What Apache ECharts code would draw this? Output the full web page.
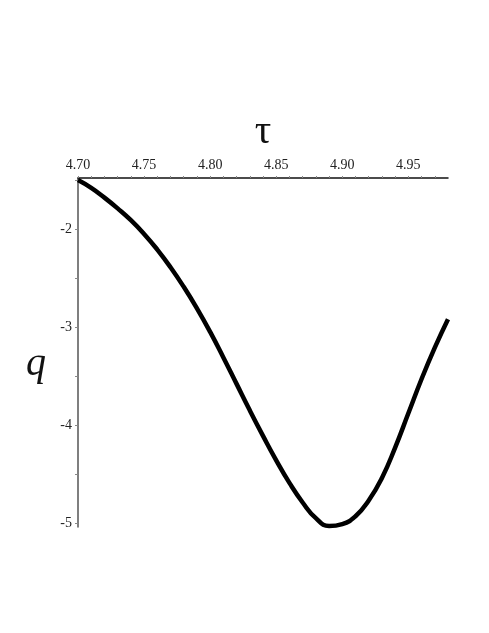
<!DOCTYPE html>
<html>
<head>
<meta charset="utf-8">
<script src="https://cdn.jsdelivr.net/npm/echarts@6/dist/echarts.min.js"></script>
<style>
  html, body { margin: 0; padding: 0; background: #fff; }
  #chart { width: 489px; height: 633px; }
</style>
</head>
<body>
<div id="chart"></div>
<script>
// tau values (x) and q values (y)
const tauValues = [4.70, 4.71, 4.72, 4.73, 4.74, 4.75, 4.76, 4.77, 4.78, 4.79,
  4.80, 4.81, 4.82, 4.83, 4.84, 4.85, 4.86, 4.87, 4.88, 4.89,
  4.90, 4.91, 4.92, 4.93, 4.94, 4.95, 4.96, 4.97, 4.98];
const qValues = [-1.50, -1.58, -1.68, -1.79, -1.91, -2.05, -2.21, -2.39, -2.59, -2.81,
  -3.05, -3.31, -3.58, -3.85, -4.11, -4.36, -4.59, -4.79, -4.95, -5.03,
  -5.01, -4.93, -4.77, -4.54, -4.23, -3.88, -3.53, -3.21, -2.92];
const xTickLabels = [4.70, 4.75, 4.80, 4.85, 4.90, 4.95];
const xMinorTicks = [4.70, 4.71, 4.72, 4.73, 4.74, 4.75, 4.76, 4.77, 4.78, 4.79,
  4.80, 4.81, 4.82, 4.83, 4.84, 4.85, 4.86, 4.87, 4.88, 4.89,
  4.90, 4.91, 4.92, 4.93, 4.94, 4.95, 4.96, 4.97];
const yTickLabels = [-5, -4, -3, -2];
const yMinorTicks = [-5, -4.5, -4, -3.5, -3, -2.5, -2, -1.5];

const chart = echarts.init(document.getElementById("chart"));

const labelFont = {
  color: "#222",
  fontFamily: "Liberation Serif",
  fontSize: 14,
};

const option = {
  backgroundColor: "#fff",
  animation: false,
  grid: {
    left: 78,
    right: 41,
    top: 178,
    bottom: 106,
  },
  xAxis: {
    type: "value",
    position: "top",
    min: 4.70,
    max: 4.98,
    name: "τ",
    nameLocation: "middle",
    nameGap: 25,
    nameTextStyle: {
      fontFamily: "Liberation Serif",
      fontSize: 41,
      color: "#111",
    },
    axisLine: {
      onZero: false,
      lineStyle: { color: "#111", width: 1.5 },
    },
    axisTick: {
      show: true,
      length: 2,
      customValues: xMinorTicks,
      lineStyle: { color: "#888", width: 1 },
    },
    axisLabel: {
      ...labelFont,
      margin: 6,
      customValues: xTickLabels,
      formatter: (v) => v.toFixed(2),
    },
    splitLine: { show: false },
  },
  yAxis: {
    type: "value",
    min: -5.04,
    max: -1.48,
    axisLine: {
      onZero: false,
      lineStyle: { color: "#555", width: 1.5 },
    },
    axisTick: {
      show: true,
      length: 3,
      customValues: yMinorTicks,
      lineStyle: { color: "#888", width: 1 },
    },
    axisLabel: {
      ...labelFont,
      margin: 6,
      customValues: yTickLabels,
    },
    splitLine: { show: false },
  },
  // y axis title sits a little below the axis middle in the original
  graphic: [
    {
      type: "text",
      left: 26,
      top: 344,
      style: {
        text: "q",
        font: "italic 40px 'Liberation Serif'",
        fill: "#111",
      },
    },
  ],
  series: [
    {
      type: "line",
      smooth: true,
      showSymbol: false,
      lineStyle: { color: "#000", width: 4.5 },
      data: tauValues.map((t, i) => [t, qValues[i]]),
    },
  ],
};

chart.setOption(option);
</script>
</body>
</html>
